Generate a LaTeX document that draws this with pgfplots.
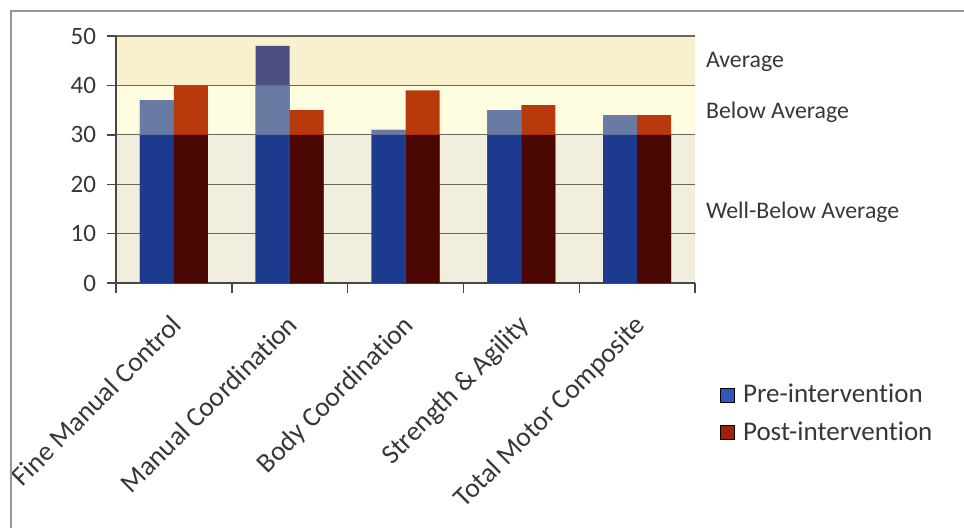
\documentclass[border=0pt]{standalone}
\usepackage{fontspec}
\setmainfont{Carlito}[Ligatures=NoCommon]
\usepackage{pgfplots}
\usepackage{pgfplotstable}
\pgfplotsset{compat=1.18}

\definecolor{txt}{HTML}{3A3632}
\definecolor{framegray}{HTML}{9A968E}
\definecolor{axisgray}{HTML}{4A4640}
\definecolor{gridgray}{HTML}{6A6660}
\definecolor{bandLow}{HTML}{F2EEDD}
\definecolor{bandMid}{HTML}{FEFCDF}
\definecolor{bandTop}{HTML}{F9F1CE}
\definecolor{preTop}{HTML}{4E4E82}
\definecolor{preMid}{HTML}{6A7BA3}
\definecolor{preLow}{HTML}{1C3B8E}
\definecolor{postTop}{HTML}{B83A0C}
\definecolor{postLow}{HTML}{4A0600}
\definecolor{legBlue}{HTML}{2F57B5}
\definecolor{legRed}{HTML}{A0200E}

% Movement ABC-2 standard scores before and after the intervention
\pgfplotstableread{
idx pre post
0   37  40
1   48  35
2   31  39
3   35  36
4   34  34
}\scores

\begin{document}
\begin{tikzpicture}[x=1pt,y=1pt]
\begin{scope}
\clip (0,0) rectangle (482,263.5);
\draw[line width=0.8pt, framegray] (5.5,-2) -- (5.5,258) -- (486,258);
\end{scope}
\begin{axis}[
  set layers,
  at={(58pt,122pt)}, anchor=south west,
  scale only axis, width=289.5pt, height=123.5pt,
  xmin=-0.5, xmax=4.5, ymin=0, ymax=50,
  clip=false,
  axis lines*=left,
  axis line style={axisgray, line width=0.7pt},
  ytick={0,10,...,50},
  ymajorgrids,
  grid style={gridgray, line width=0.6pt},
  tick align=outside,
  major tick length=4.5pt,
  minor tick length=5pt,
  every tick/.style={axisgray, line width=0.7pt},
  xtick={0,...,4},
  major x tick style={draw=none},
  minor xtick={-0.5,0.5,...,4.5},
  xticklabels={Fine Manual Control, Manual Coordination, Body Coordination, Strength \& Agility, Total Motor Composite},
  xticklabel style={xshift=-2pt, yshift=-9pt, rotate=45, anchor=north east, font=\fontsize{13.75}{16}\selectfont, text=txt, inner sep=1pt},
  yticklabel style={font=\fontsize{12.5}{14}\selectfont, text=txt, xshift=-2pt},
  /pgf/number format/assume math mode=true,
  legend image code/.code={\fill[#1] (0pt,-3.5pt) rectangle (7pt,3.5pt);},
  legend style={at={(1.043,-0.53)}, anchor=west, draw=none, fill=none,
    font=\fontsize{13.5}{17}\selectfont, text=txt, row sep=4pt, inner sep=0pt,
    nodes={inner xsep=4pt}},
  legend cell align=left,
]
\begin{pgfonlayer}{axis background}
  \fill[bandLow] (axis cs:-0.5,0) rectangle (axis cs:4.5,30);
  \fill[bandMid] (axis cs:-0.5,30) rectangle (axis cs:4.5,40);
  \fill[bandTop] (axis cs:-0.5,40) rectangle (axis cs:4.5,50);
\end{pgfonlayer}

% pre-intervention bars, shaded by score band
\addplot[ybar, bar width=17pt, bar shift=-8.5pt, fill=preTop, draw=none, forget plot]
  table[x=idx, y=pre]{\scores};
\addplot[ybar, bar width=17pt, bar shift=-8.5pt, fill=preMid, draw=none, forget plot]
  table[x=idx, y expr={min(\thisrow{pre},40)}]{\scores};
\addplot[ybar, bar width=17pt, bar shift=-8.5pt, fill=preLow, draw=none, forget plot]
  table[x=idx, y expr={min(\thisrow{pre},30)}]{\scores};

% post-intervention bars
\addplot[ybar, bar width=17pt, bar shift=8.5pt, fill=postTop, draw=none, forget plot]
  table[x=idx, y=post]{\scores};
\addplot[ybar, bar width=17pt, bar shift=8.5pt, fill=postLow, draw=none, forget plot]
  table[x=idx, y expr={min(\thisrow{post},30)}]{\scores};

\addlegendimage{fill=legBlue}
\addlegendentry{Pre-intervention}
\addlegendimage{fill=legRed}
\addlegendentry{Post-intervention}

\node[anchor=west, xshift=2pt, font=\fontsize{11.9}{14}\selectfont, text=txt] at (axis cs:4.5,44.7) {Average};
\node[anchor=west, xshift=2pt, font=\fontsize{11.9}{14}\selectfont, text=txt] at (axis cs:4.5,34.6) {Below Average};
\node[anchor=west, xshift=2pt, font=\fontsize{11.9}{14}\selectfont, text=txt] at (axis cs:4.5,14.4) {Well-Below Average};
\end{axis}
\pgfresetboundingbox
\useasboundingbox (0,0) rectangle (482,263.5);
\end{tikzpicture}
\end{document}
